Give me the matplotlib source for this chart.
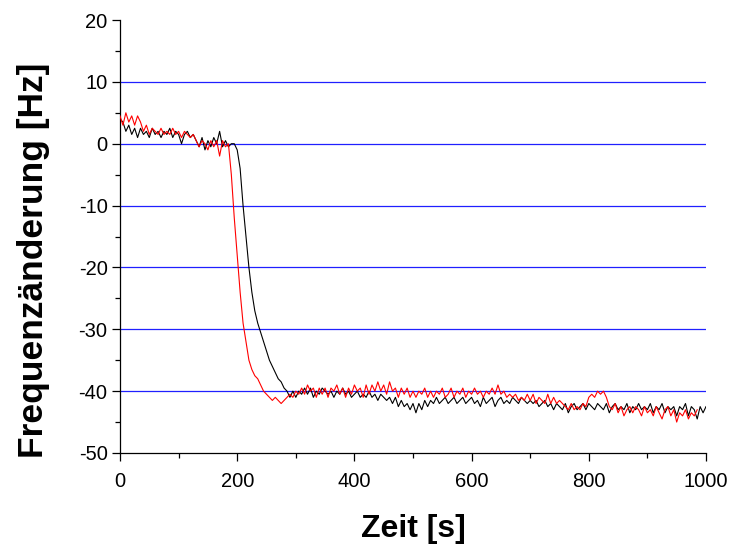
import numpy as np
import matplotlib
matplotlib.use("Agg")
import matplotlib.pyplot as plt
from matplotlib.ticker import MultipleLocator

# time axis (s) for each series
t_black = list(range(0, 1001, 5))
f_black = [
    4, 3.5, 2, 3, 1.5, 2.5, 1, 2.5, 1.5, 2, 1, 2.5, 1.5, 2, 1, 2, 1.5, 2.5, 1, 2,
    1.5, 0, 1.5, 2, 1, 1.5, 0.5, -0.5, 1, -1, 0.5, -0.5, 1, 0, 2, -0.5, 0.5, -0.5, 0, 0,
    -1, -4, -10, -15, -20, -24, -27, -29, -30.5, -32, -33.5, -35, -36, -37, -38, -38.5, -39.5, -40, -41, -40,
    -41, -40, -40.5, -39.5, -40.5, -39.5, -41, -40, -40.5, -39.5, -40, -40.5, -40, -41, -40, -40.5, -39.5, -40.5, -40, -41,
    -40.5, -40, -41, -40.5, -41, -40, -41, -40.5, -41.5, -40.5, -41, -41.5, -41, -42, -41, -42.5, -41.5, -42.5, -42, -43,
    -42, -43.5, -42, -43, -41.5, -42.5, -41.5, -42, -41, -42, -41.5, -41, -42, -41.5, -41, -42, -41.5, -41, -42, -41.5,
    -41, -42, -41.5, -42.5, -41, -42, -41.5, -41, -42.5, -41.5, -41, -42, -41.5, -42, -41, -41.5, -42, -41, -41.5, -42,
    -41.5, -42, -41.5, -42.5, -42, -41.5, -42.5, -42, -43, -42, -42.5, -43, -42, -43.5, -42.5, -42, -43, -42.5, -42, -43,
    -42, -42.5, -43, -42, -42.5, -43, -42, -43.5, -42.5, -42, -43, -42.5, -43, -42, -43.5, -42.5, -43, -42, -43, -42.5,
    -43, -42, -43.5, -42.5, -43, -42, -43.5, -42.5, -43, -42.5, -44, -42.5, -43, -42, -44, -42.5, -43, -44.5, -42.5, -43.5,
    -42.5,
]

t_red = list(range(0, 986, 5))
f_red = [
    4.5, 3, 5, 3.5, 4.5, 3, 4.5, 3.5, 2, 3, 1.5, 2.5, 2, 1.5, 2.5, 1.5, 2, 1.5, 2.5, 1.5,
    2, 1, 2, 1.5, 1, 1.5, 0.5, -0.5, 0.5, 0, -1, 0.5, -0.5, 0.5, -2, 0.5, -0.5, 0, -5, -12,
    -18, -24, -29, -32, -35, -36.5, -37.5, -38, -39, -40, -40.5, -41, -41.5, -41, -41.5, -42, -41.5, -41, -40.5, -41,
    -40, -40.5, -39.5, -40.5, -39, -40, -39.5, -41, -39.5, -40.5, -39.5, -41, -39.5, -40, -39, -40.5, -39.5, -41, -39.5, -40.5,
    -39, -40, -39.5, -41, -39, -40.5, -39, -40, -38.5, -40, -39, -40.5, -38.5, -40, -39.5, -41, -39.5, -40.5, -39.5, -41,
    -40, -41, -40, -40.5, -39.5, -41, -40, -41, -40, -40.5, -39.5, -41, -40.5, -39.5, -41, -40, -40.5, -39.5, -41, -40,
    -40.5, -39.5, -40.5, -40, -41, -40, -40.5, -39.5, -40.5, -39, -40.5, -40, -41, -40.5, -41, -40.5, -41.5, -41, -41.5, -40.5,
    -41.5, -40.5, -42, -41, -41.5, -42, -40.5, -42, -41, -42, -41.5, -42, -42.5, -43, -42, -43, -42.5, -43, -42, -42.5,
    -41, -40.5, -41, -40, -40.5, -40, -41, -42.5, -43, -42, -43.5, -42.5, -44, -43, -42.5, -43.5, -42.5, -43, -44, -42.5,
    -43.5, -43, -44, -42.5, -43.5, -44.5, -43, -42.5, -44, -43, -45, -43.5, -44, -43, -44.5, -43.5, -44, -43,
]

x_ticks = [0, 200, 400, 600, 800, 1000]
y_ticks = [-50, -40, -30, -20, -10, 0, 10, 20]
grid_levels = [-40, -30, -20, -10, 0, 10]

plt.rcParams['font.family'] = ['Liberation Sans', 'DejaVu Sans']
plt.rcParams['axes.unicode_minus'] = False

fig = plt.figure(figsize=(7.34, 5.46), dpi=100)
ax = fig.add_axes([120 / 734, 93 / 546, 586 / 734, 433 / 546])

for g in grid_levels:
    ax.axhline(g, color='#2020ff', lw=0.9, zorder=1)

ax.plot(t_black, f_black, color='black', lw=0.8, zorder=3)
ax.plot(t_red, f_red, color='red', lw=0.8, zorder=4)

ax.set_xlim(0, 1000)
ax.set_ylim(-50, 20)
ax.set_xticks(x_ticks)
ax.set_yticks(y_ticks)
ax.xaxis.set_minor_locator(MultipleLocator(100))
ax.yaxis.set_minor_locator(MultipleLocator(5))

for s in ['top', 'right']:
    ax.spines[s].set_visible(False)
for s in ['left', 'bottom']:
    ax.spines[s].set_linewidth(0.9)

ax.tick_params(which='major', direction='out', length=6, width=0.9, labelsize=14.5)
ax.tick_params(axis='x', which='major', pad=8)
ax.tick_params(axis='y', which='major', pad=3)
ax.tick_params(which='minor', direction='out', length=3.5, width=0.9)

ax.set_xlabel('Zeit [s]', fontsize=23, fontweight='bold', labelpad=16)
ax.set_ylabel('Frequenzänderung [Hz]', fontsize=25.5, fontweight='bold')
ax.yaxis.set_label_coords(-0.1195, 0.4446)

fig.savefig('out.png', dpi=100)
